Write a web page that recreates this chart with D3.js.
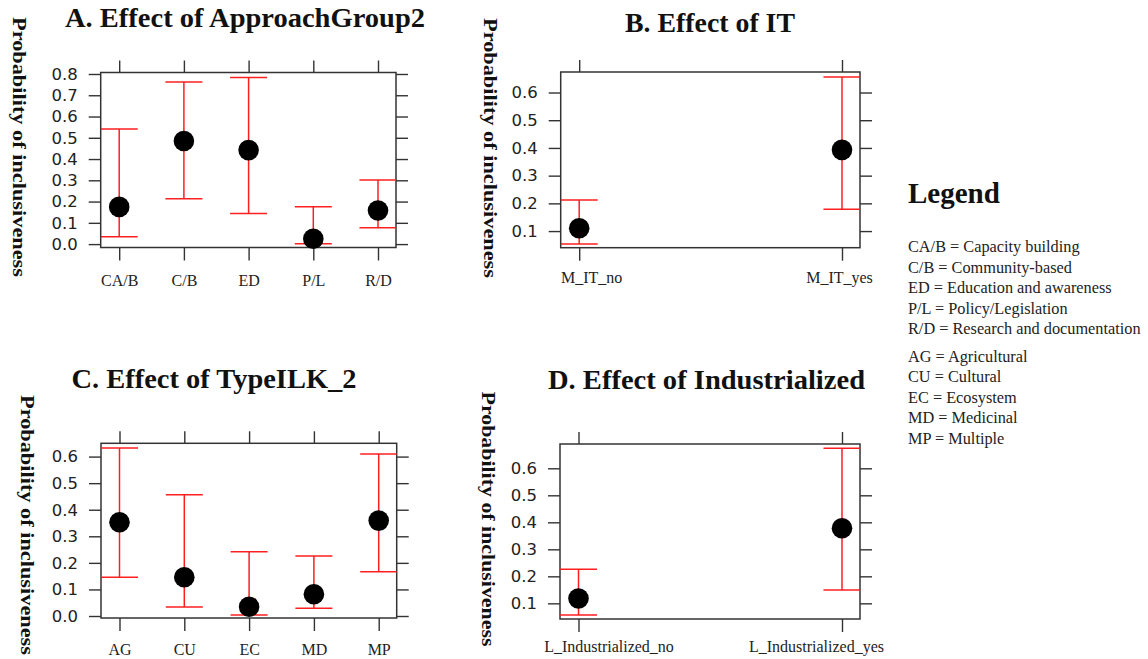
<!DOCTYPE html>
<html>
<head>
<meta charset="utf-8">
<script src="https://cdn.jsdelivr.net/npm/d3@7"></script>
<style>
  body { margin: 0; background: #fff; }
</style>
</head>
<body>
<div id="chart"></div>
<script>
// A. ApproachGroup2
const approachCats = ["CA/B", "C/B", "ED", "P/L", "R/D"];
const approachFit = [0.175, 0.485, 0.442, 0.025, 0.158];
const approachLower = [0.035, 0.213, 0.144, 0.002, 0.077];
const approachUpper = [0.541, 0.762, 0.784, 0.176, 0.301];
const approachTicks = [0.0, 0.1, 0.2, 0.3, 0.4, 0.5, 0.6, 0.7, 0.8];

// B. IT
const itCats = ["M_IT_no", "M_IT_yes"];
const itFit = [0.110, 0.393];
const itLower = [0.053, 0.179];
const itUpper = [0.212, 0.656];
const itTicks = [0.1, 0.2, 0.3, 0.4, 0.5, 0.6];

// C. TypeILK_2
const ilkCats = ["AG", "CU", "EC", "MD", "MP"];
const ilkFit = [0.353, 0.146, 0.035, 0.082, 0.359];
const ilkLower = [0.146, 0.034, 0.004, 0.029, 0.167];
const ilkUpper = [0.632, 0.456, 0.242, 0.226, 0.610];
const ilkTicks = [0.0, 0.1, 0.2, 0.3, 0.4, 0.5, 0.6];

// D. Industrialized
const indCats = ["L_Industrialized_no", "L_Industrialized_yes"];
const indFit = [0.118, 0.378];
const indLower = [0.057, 0.149];
const indUpper = [0.226, 0.674];
const indTicks = [0.1, 0.2, 0.3, 0.4, 0.5, 0.6];

// legend text
const legendApproach = [
    "CA/B = Capacity building",
    "C/B = Community-based",
    "ED = Education and awareness",
    "P/L = Policy/Legislation",
    "R/D = Research and documentation"
];
const legendIlk = [
    "AG = Agricultural",
    "CU = Cultural",
    "EC = Ecosystem",
    "MD = Medicinal",
    "MP = Multiple"
];

const yLabel = "Probability of inclusiveness";
const serif = "'Liberation Serif', 'Times New Roman', Times, serif";
const sans = "'DejaVu Sans', Arial, sans-serif";
const lineCol = "#333";
const barCol = "#ff1f1f";

const svg = d3.select("#chart")
    .append("svg")
    .attr("width", 1148)
    .attr("height", 659);

const panels = [
    {
        title: "A. Effect of ApproachGroup2", cats: approachCats, fit: approachFit,
        lower: approachLower, upper: approachUpper, ticks: approachTicks,
        box: { x0: 100.7, x1: 396, y0: 72.5, y1: 247.5 }, domain: [-0.016, 0.807],
        titleX: 245, titleY: 27, titleLen: 360,
        ylabX: 12.5, ylabY: 147, ylabLen: 260,
        labelY: 286, labelDx: [0, 0, 0, 0, 0]
    },
    {
        title: "B. Effect of IT", cats: itCats, fit: itFit,
        lower: itLower, upper: itUpper, ticks: itTicks,
        box: { x0: 560.7, x1: 860, y0: 72, y1: 247.7 }, domain: [0.040, 0.674],
        titleX: 710, titleY: 32, titleLen: 170,
        ylabX: 484, ylabY: 148, ylabLen: 260,
        labelY: 283, labelDx: [12, -3]
    },
    {
        title: "C. Effect of TypeILK_2", cats: ilkCats, fit: ilkFit,
        lower: ilkLower, upper: ilkUpper, ticks: ilkTicks,
        box: { x0: 101, x1: 396.7, y0: 443.3, y1: 618 }, domain: [-0.0075, 0.65],
        titleX: 214, titleY: 388, titleLen: 285,
        ylabX: 21, ylabY: 525, ylabLen: 260,
        labelY: 655, labelDx: [0, 0, 0, 0, 0]
    },
    {
        title: "D. Effect of Industrialized", cats: indCats, fit: indFit,
        lower: indLower, upper: indUpper, ticks: indTicks,
        box: { x0: 560, x1: 860, y0: 444, y1: 619 }, domain: [0.042, 0.690],
        titleX: 706.5, titleY: 389, titleLen: 317,
        ylabX: 482, ylabY: 519, ylabLen: 255,
        labelY: 652, labelDx: [30, -26]
    }
];

function styleAxis(sel) {
    sel.select(".domain").remove();
    sel.selectAll(".tick line").attr("stroke", lineCol).attr("stroke-width", 1.4);
}

function drawPanel(p, i) {
    const b = p.box;
    const g = svg.append("g");

    const x = d3.scalePoint()
        .domain(p.cats)
        .range([b.x0 + 18.5, b.x1 - 18]);
    const y = d3.scaleLinear()
        .domain(p.domain)
        .range([b.y1, b.y0]);

    // title
    g.append("text")
        .attr("x", p.titleX)
        .attr("y", p.titleY)
        .attr("text-anchor", "middle")
        .attr("textLength", p.titleLen)
        .attr("lengthAdjust", "spacingAndGlyphs")
        .style("font-family", serif)
        .style("font-weight", "bold")
        .style("font-size", "27px")
        .attr("fill", "#111")
        .text(p.title);

    // y label, reads top to bottom
    g.append("text")
        .attr("transform", `translate(${p.ylabX},${p.ylabY}) rotate(90)`)
        .attr("text-anchor", "middle")
        .attr("textLength", p.ylabLen)
        .attr("lengthAdjust", "spacingAndGlyphs")
        .style("font-family", serif)
        .style("font-weight", "bold")
        .style("font-size", "18px")
        .attr("fill", "#111")
        .text(yLabel);

    // left axis with labels
    const left = g.append("g")
        .attr("transform", `translate(${b.x0},0)`)
        .call(d3.axisLeft(y).tickValues(p.ticks).tickSize(12).tickPadding(11).tickFormat(d3.format(".1f")));
    styleAxis(left);
    left.selectAll(".tick text")
        .attr("fill", "#222")
        .style("font-family", sans)
        .style("font-size", "16.5px");

    // right axis, ticks only
    const right = g.append("g")
        .attr("transform", `translate(${b.x1},0)`)
        .call(d3.axisRight(y).tickValues(p.ticks).tickSize(12).tickFormat(""));
    styleAxis(right);

    // top axis, ticks only
    const top = g.append("g")
        .attr("transform", `translate(0,${b.y0})`)
        .call(d3.axisTop(x).tickSize(12).tickFormat(""));
    styleAxis(top);

    // bottom axis with category labels
    const bottom = g.append("g")
        .attr("transform", `translate(0,${b.y1})`)
        .call(d3.axisBottom(x).tickSize(13));
    styleAxis(bottom);
    bottom.selectAll(".tick text")
        .attr("y", p.labelY - b.y1)
        .attr("dy", null)
        .attr("dx", (d, j) => p.labelDx[j])
        .attr("fill", "#222")
        .style("font-family", serif)
        .style("font-size", "16px");

    // panel box
    g.append("rect")
        .attr("x", b.x0)
        .attr("y", b.y0)
        .attr("width", b.x1 - b.x0)
        .attr("height", b.y1 - b.y0)
        .attr("fill", "none")
        .attr("stroke", lineCol)
        .attr("stroke-width", 1.5);

    // clip for error bars
    const clipId = "clip" + i;
    svg.append("clipPath").attr("id", clipId)
        .append("rect")
        .attr("x", b.x0)
        .attr("y", b.y0)
        .attr("width", b.x1 - b.x0)
        .attr("height", b.y1 - b.y0);

    const rows = p.cats.map((c, j) => ({ cat: c, fit: p.fit[j], lo: p.lower[j], hi: p.upper[j] }));
    const capW = 18.5;
    const bars = g.append("g").attr("clip-path", `url(#${clipId})`);

    bars.selectAll(".stem")
        .data(rows)
        .enter()
        .append("line")
        .attr("x1", d => x(d.cat))
        .attr("x2", d => x(d.cat))
        .attr("y1", d => y(d.lo))
        .attr("y2", d => y(d.hi))
        .attr("stroke", barCol)
        .attr("stroke-width", 1.5);

    ["lo", "hi"].forEach(k => {
        bars.selectAll(".cap-" + k)
            .data(rows)
            .enter()
            .append("line")
            .attr("x1", d => x(d.cat) - capW)
            .attr("x2", d => x(d.cat) + capW)
            .attr("y1", d => y(d[k]))
            .attr("y2", d => y(d[k]))
            .attr("stroke", barCol)
            .attr("stroke-width", 1.5);
    });

    // points
    g.selectAll(".pt")
        .data(rows)
        .enter()
        .append("circle")
        .attr("cx", d => x(d.cat))
        .attr("cy", d => y(d.fit))
        .attr("r", 10.3)
        .attr("fill", "#000");
}

panels.forEach(drawPanel);

// Legend
const legend = svg.append("g").attr("transform", "translate(908,0)");
legend.append("text")
    .attr("x", 0)
    .attr("y", 203)
    .style("font-family", serif)
    .style("font-weight", "bold")
    .style("font-size", "29px")
    .attr("fill", "#111")
    .text("Legend");

legend.selectAll(".la")
    .data(legendApproach)
    .enter()
    .append("text")
    .attr("x", 0)
    .attr("y", (d, j) => 252 + j * 20.5)
    .style("font-family", serif)
    .style("font-size", "16.3px")
    .attr("fill", "#222")
    .text(d => d);

legend.selectAll(".li")
    .data(legendIlk)
    .enter()
    .append("text")
    .attr("x", 0)
    .attr("y", (d, j) => 362 + j * 20.4)
    .style("font-family", serif)
    .style("font-size", "16.3px")
    .attr("fill", "#222")
    .text(d => d);
</script>
</body>
</html>
